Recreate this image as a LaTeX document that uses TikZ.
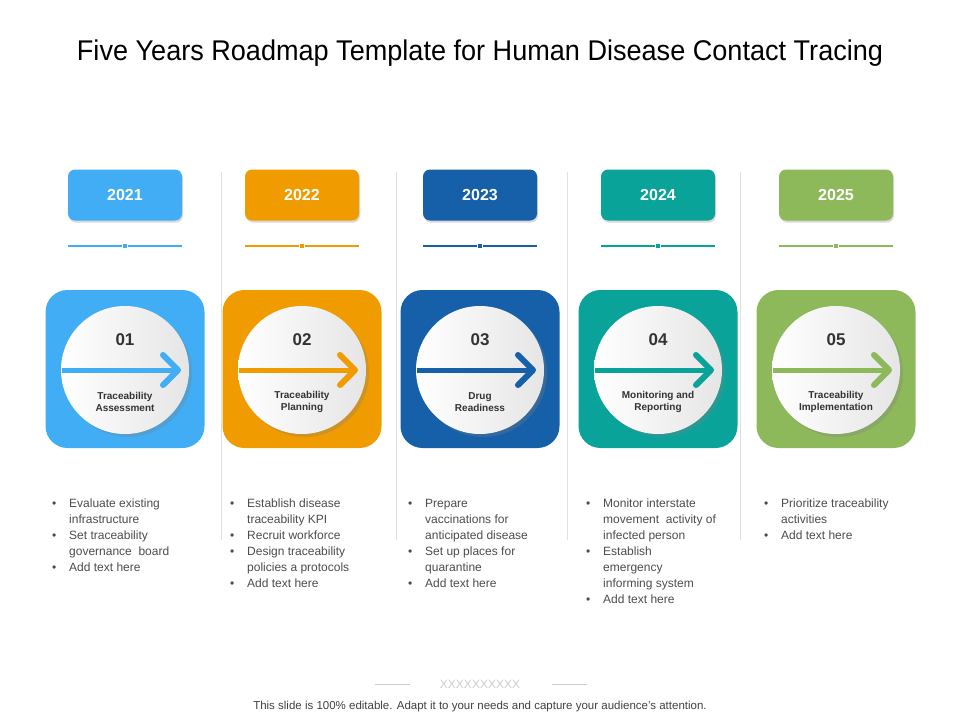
\documentclass[tikz,border=0pt]{standalone}
\usepackage{fontspec}
\setmainfont{Liberation Sans}
\usetikzlibrary{shadows,arrows.meta}
\definecolor{cA}{HTML}{40ADF5}
\definecolor{cB}{HTML}{F09C00}
\definecolor{cC}{HTML}{1560A8}
\definecolor{cD}{HTML}{0AA39A}
\definecolor{cE}{HTML}{8DB95A}
\newcommand{\bi}{\textbullet&}
\tikzset{
 yearbox/.style={rounded corners=7pt,minimum width=114pt,minimum height=51pt,text=white,font=\bfseries\fontsize{16}{18}\selectfont,drop shadow={opacity=0.3,shadow xshift=1pt,shadow yshift=-2pt}},
 bigsq/.style={rounded corners=22pt,minimum width=159pt,minimum height=158pt},
 disc/.style={circle,minimum size=128pt,left color=white,right color=gray!20,drop shadow={opacity=0.3,shadow xshift=3pt,shadow yshift=-3pt}},
 numtxt/.style={font=\bfseries\fontsize{17}{19}\selectfont,text=black!80},
 lbltxt/.style={font=\bfseries\fontsize{10}{12}\selectfont,text=black!80,align=center},
 bul/.style={anchor=north west,inner sep=0pt,font=\fontsize{12}{16}\selectfont,text=black!70},
 sep/.style={draw=gray!25,line width=0.8pt}
}
\begin{document}
\begin{tikzpicture}[x=1pt,y=-1pt]
\useasboundingbox (0,0) rectangle (960,720);
\node (title) at (480,53) {\fontsize{28.5}{30}\selectfont\addfontfeature{FakeStretch=0.95}Five Years Roadmap Template for Human Disease Contact Tracing};
\foreach \x in {221,396,567,740}{\draw[sep] (\x,172) -- (\x,540);}
\foreach \i/\x/\c/\yr/\lab in {1/125/cA/2021/{Traceability\\Assessment},2/302/cB/2022/{Traceability\\Planning},3/480/cC/2023/{Drug\\Readiness},4/658/cD/2024/{Monitoring and\\Reporting},5/836/cE/2025/{Traceability\\Implementation}}{
 \node[yearbox,fill=\c] (y\i) at (\x,195) {\yr};
 \draw[\c,line width=1.5pt] (\x-57,246) -- (\x+57,246);
 \node[fill=\c,minimum size=5pt,inner sep=0pt,draw=white,line width=0.5pt] (d\i) at (\x,246) {};
 \node[bigsq,fill=\c] (s\i) at (\x,369) {};
 \node[disc] (c\i) at (\x,370) {};
 \draw[\c,line width=5pt] (\x-63,370) -- (\x+52,370);
 \draw[\c,line width=6pt,line cap=round,line join=round] (\x+38,355) -- (\x+53,370) -- (\x+38,385);
 \node[numtxt] (n\i) at (\x,340) {0\i};
 \node[lbltxt] (l\i) at (\x,402) {\lab};
}
\node[bul] (b1) at (52,496) {\begin{tabular}{@{}p{12pt}@{\hspace{5pt}}l@{}}\bi Evaluate existing\\&infrastructure\\\bi Set traceability\\&governance\ \ board\\\bi Add text here\end{tabular}};
\node[bul] (b2) at (230,496) {\begin{tabular}{@{}p{12pt}@{\hspace{5pt}}l@{}}\bi Establish disease\\&traceability KPI\\\bi Recruit workforce\\\bi Design traceability\\&policies a protocols\\\bi Add text here\end{tabular}};
\node[bul] (b3) at (408,496) {\begin{tabular}{@{}p{12pt}@{\hspace{5pt}}l@{}}\bi Prepare\\&vaccinations for\\&anticipated disease\\\bi Set up places for\\&quarantine\\\bi Add text here\end{tabular}};
\node[bul] (b4) at (586,496) {\begin{tabular}{@{}p{12pt}@{\hspace{5pt}}l@{}}\bi Monitor interstate\\&movement\ \ activity of\\&infected person\\\bi Establish\\&emergency\\&informing system\\\bi Add text here\end{tabular}};
\node[bul] (b5) at (764,496) {\begin{tabular}{@{}p{12pt}@{\hspace{5pt}}l@{}}\bi Prioritize traceability\\&activities\\\bi Add text here\end{tabular}};
\draw[gray!40] (375,684) -- (410,684);
\draw[gray!40] (552,684) -- (587,684);
\node (xx) at (480,684) {\fontsize{12}{12}\selectfont\color{gray!40}XXXXXXXXXX};
\node (foot) at (480,707) {\fontsize{11.5}{12}\selectfont\color{black!75}This slide is 100\% editable. Adapt it to your needs and capture your audience's attention.};
\end{tikzpicture}
\end{document}
